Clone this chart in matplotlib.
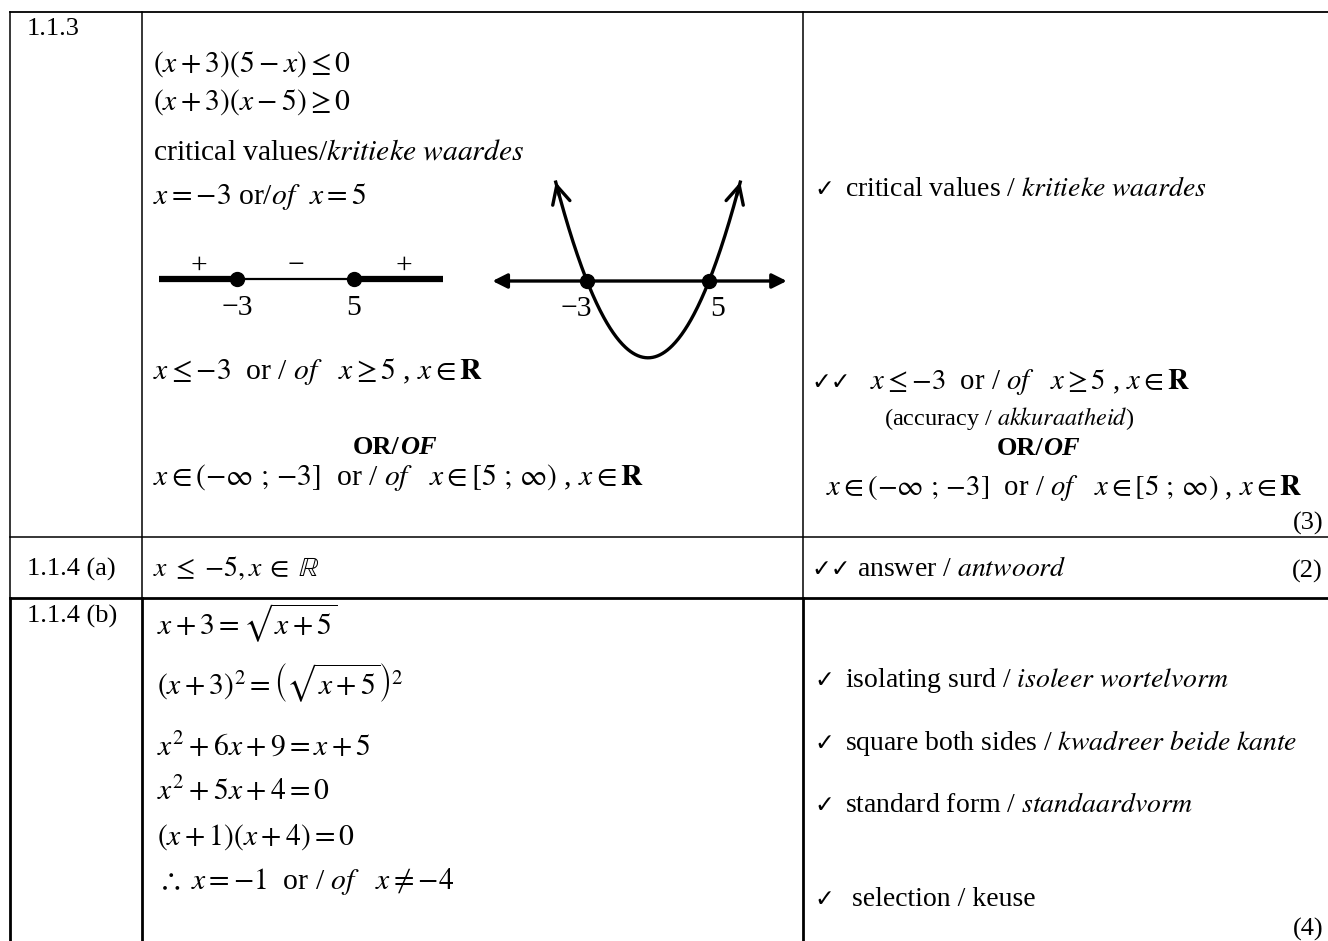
import numpy as np
import matplotlib
matplotlib.use("Agg")
import matplotlib.pyplot as plt

plt.rcParams['font.family'] = ['Liberation Serif', 'DejaVu Sans']
plt.rcParams['mathtext.fontset'] = 'stix'

# ---- data ----
crit = [-3, 5]
signs = ['+', '\u2212', '+']
sign_x = [-5.6, 1.0, 8.4]
numline_ends = [-8.3, 11.1]
crit_labels = ['\u22123', '5']
parab_span = [-5.05, 7.05]
axis_span = [-9.2, 10.1]

q_labels = ['1.1.3', '1.1.4 (a)', '1.1.4 (b)']
marks = ['(3)', '(2)', '(4)']

work_113 = [r"$(x+3)(5-x)\leq 0$",
            r"$(x+3)(x-5)\geq 0$",
            r"critical values/$\mathit{kritieke\ waardes}$",
            r"$x={-3}$ or/$\mathit{of}$  $x=5$"]
answer_113 = r"$x\leq{-3}$  or / $\mathit{of}$   $x\geq 5$ , $x\in\mathbf{R}$"
interval_113 = r"$x\in(-\infty\ ;\,{-3}]$  or / $\mathit{of}$   $x\in[5\ ;\,\infty)$ , $x\in\mathbf{R}$"
work_a = r"$x\;\leq\;{-5}, x\;\in\;\mathbb{R}$"
work_b = [r"$x+3=\sqrt{x+5}$",
          r"$\left(x+3\right)^{2}=\left(\sqrt{x+5}\right)^{2}$",
          r"$x^{2}+6x+9=x+5$",
          r"$x^{2}+5x+4=0$",
          r"$(x+1)(x+4)=0$",
          r"$\therefore\ x={-1}$  or / $\mathit{of}$   $x\neq{-4}$"]

memo = [('\u2713', r"critical values / $\mathit{kritieke\ waardes}$"),
        ('\u2713\u2713', answer_113),
        ('\u2713\u2713', r"answer / $\mathit{antwoord}$"),
        ('\u2713', r"isolating surd / $\mathit{isoleer\ wortelvorm}$"),
        ('\u2713', r"square both sides / $\mathit{kwadreer\ beide\ kante}$"),
        ('\u2713', r"standard form / $\mathit{standaardvorm}$"),
        ('\u2713', r"selection / keuse")]
accuracy = r"(accuracy / $\mathit{akkuraatheid}$)"

# ---- layout (pixels) ----
W, H = 1328, 941
FS = 19      # question numbers, marks
FL = 21.3    # working column
FR = 20      # memo column
FRM = 20.7   # memo column maths
FC = 17      # tick marks
fig = plt.figure(figsize=(W / 100, H / 100), dpi=100)
ax = fig.add_axes([0, 0, 1, 1])
ax.set_xlim(0, W)
ax.set_ylim(H, 0)
ax.axis('off')


def inset(left, top, right, bottom):
    a = fig.add_axes([left / W, 1 - bottom / H, (right - left) / W, (bottom - top) / H])
    a.axis('off')
    return a


# table grid
row_lines = [12, 537, 598]
row_lw = [1.3, 1.1, 2.0]
for y, lw in zip(row_lines, row_lw):
    ax.plot([10, W], [y, y], color='k', lw=lw)
for x in [10, 141.5, 803]:
    ax.plot([x, x], [12, 598], color='k', lw=1.1)
    ax.plot([x, x], [598, H], color='k', lw=2.0)

# question numbers
for lab, y in zip(q_labels, [35, 576, 623]):
    ax.text(27, y, lab, fontsize=FS, va='baseline')

# 1.1.3 working
for s, y in zip(work_113, [72, 110, 159, 204]):
    ax.text(153, y, s, fontsize=FL, va='baseline')
ax.text(153, 379, answer_113, fontsize=FL, va='baseline')
ax.text(400, 454, "OR/", fontsize=FS, weight='bold', ha='right', va='baseline')
ax.text(400, 454, "OF", fontsize=FS, weight='bold', style='italic', ha='left', va='baseline')
ax.text(153, 485, interval_113, fontsize=FL, va='baseline')

# sign diagram
s1 = 14.625
nl = inset(237 - 6 * s1, 249, 237 + 15 * s1, 309)
nl.set_xlim(-9, 12)
nl.set_ylim(-1.5, 1.5)
nl.plot([numline_ends[0], crit[0]], [0, 0], color='k', lw=4.5, solid_capstyle='butt')
nl.plot(crit, [0, 0], color='k', lw=1.6)
nl.plot([crit[1], numline_ends[1]], [0, 0], color='k', lw=4.5, solid_capstyle='butt')
nl.plot(crit, [0, 0], 'o', color='k', ms=10)
for sx, sg in zip(sign_x, signs):
    nl.text(sx, 0.3, sg, fontsize=FL, ha='center', va='baseline')
for cx, cl in zip(crit, crit_labels):
    nl.text(cx, -1.8, cl, fontsize=FL, ha='center', va='baseline')

# parabola sketch
s2 = 15.25
ys = 4.8
pa = inset(587 - 7 * s2, 281 - 22 * ys, 587 + 14 * s2, 281 + 18 * ys)
pa.set_xlim(-10, 11)
pa.set_ylim(-18, 22)
xs = np.linspace(parab_span[0], parab_span[1], 300)
yv = (xs - crit[0]) * (xs - crit[1])
pa.plot(xs, yv, color='k', lw=2.4)
for i in (0, -1):
    j = 6 if i == 0 else -7
    pa.annotate('', xy=(xs[i], yv[i]), xytext=(xs[j], yv[j]),
                arrowprops=dict(arrowstyle='->', lw=2.4, color='k',
                                mutation_scale=32, shrinkA=0, shrinkB=0))
pa.annotate('', xy=(axis_span[1], 0), xytext=(axis_span[0], 0),
            arrowprops=dict(arrowstyle='<|-|>', lw=2.4, color='k',
                            mutation_scale=22, shrinkA=0, shrinkB=0))
pa.plot(crit, [0, 0], 'o', color='k', ms=10)
pa.text(crit[0] + 0.3, -7.2, crit_labels[0], fontsize=FL, ha='right', va='baseline')
pa.text(crit[1] + 0.1, -7.2, crit_labels[1], fontsize=FL, ha='left', va='baseline')

# 1.1.4 working
ax.text(153, 576, work_a, fontsize=20, va='baseline')
for s, y in zip(work_b, [635, 695, 755, 800, 845, 889]):
    ax.text(157, y, s, fontsize=FL, va='baseline')

# memo column
chk_x = [814, 811, 811, 814, 814, 814, 814]
txt_x = [845, 870, 857, 845, 845, 845, 852]
memo_y = [196, 389, 576, 687, 750, 812, 906]
memo_fs = [FR, FRM, FR, FR, FR, FR, FR]
for (ck, txt), cx, tx, y, f in zip(memo, chk_x, txt_x, memo_y, memo_fs):
    ax.text(cx, y, ck, fontsize=FC, family='DejaVu Sans', va='baseline')
    ax.text(tx, y, txt, fontsize=f, va='baseline')
ax.text(884, 425, accuracy, fontsize=17.5, va='baseline')
ax.text(1043, 455, "OR/", fontsize=FS, weight='bold', ha='right', va='baseline')
ax.text(1043, 455, "OF", fontsize=FS, weight='bold', style='italic', ha='left', va='baseline')
ax.text(826, 495, interval_113, fontsize=FRM, va='baseline')
for m, y in zip(marks, [530, 578, 936]):
    ax.text(1323, y, m, fontsize=FS, ha='right', va='baseline')

fig.savefig('out.png', dpi=100, facecolor='white')
